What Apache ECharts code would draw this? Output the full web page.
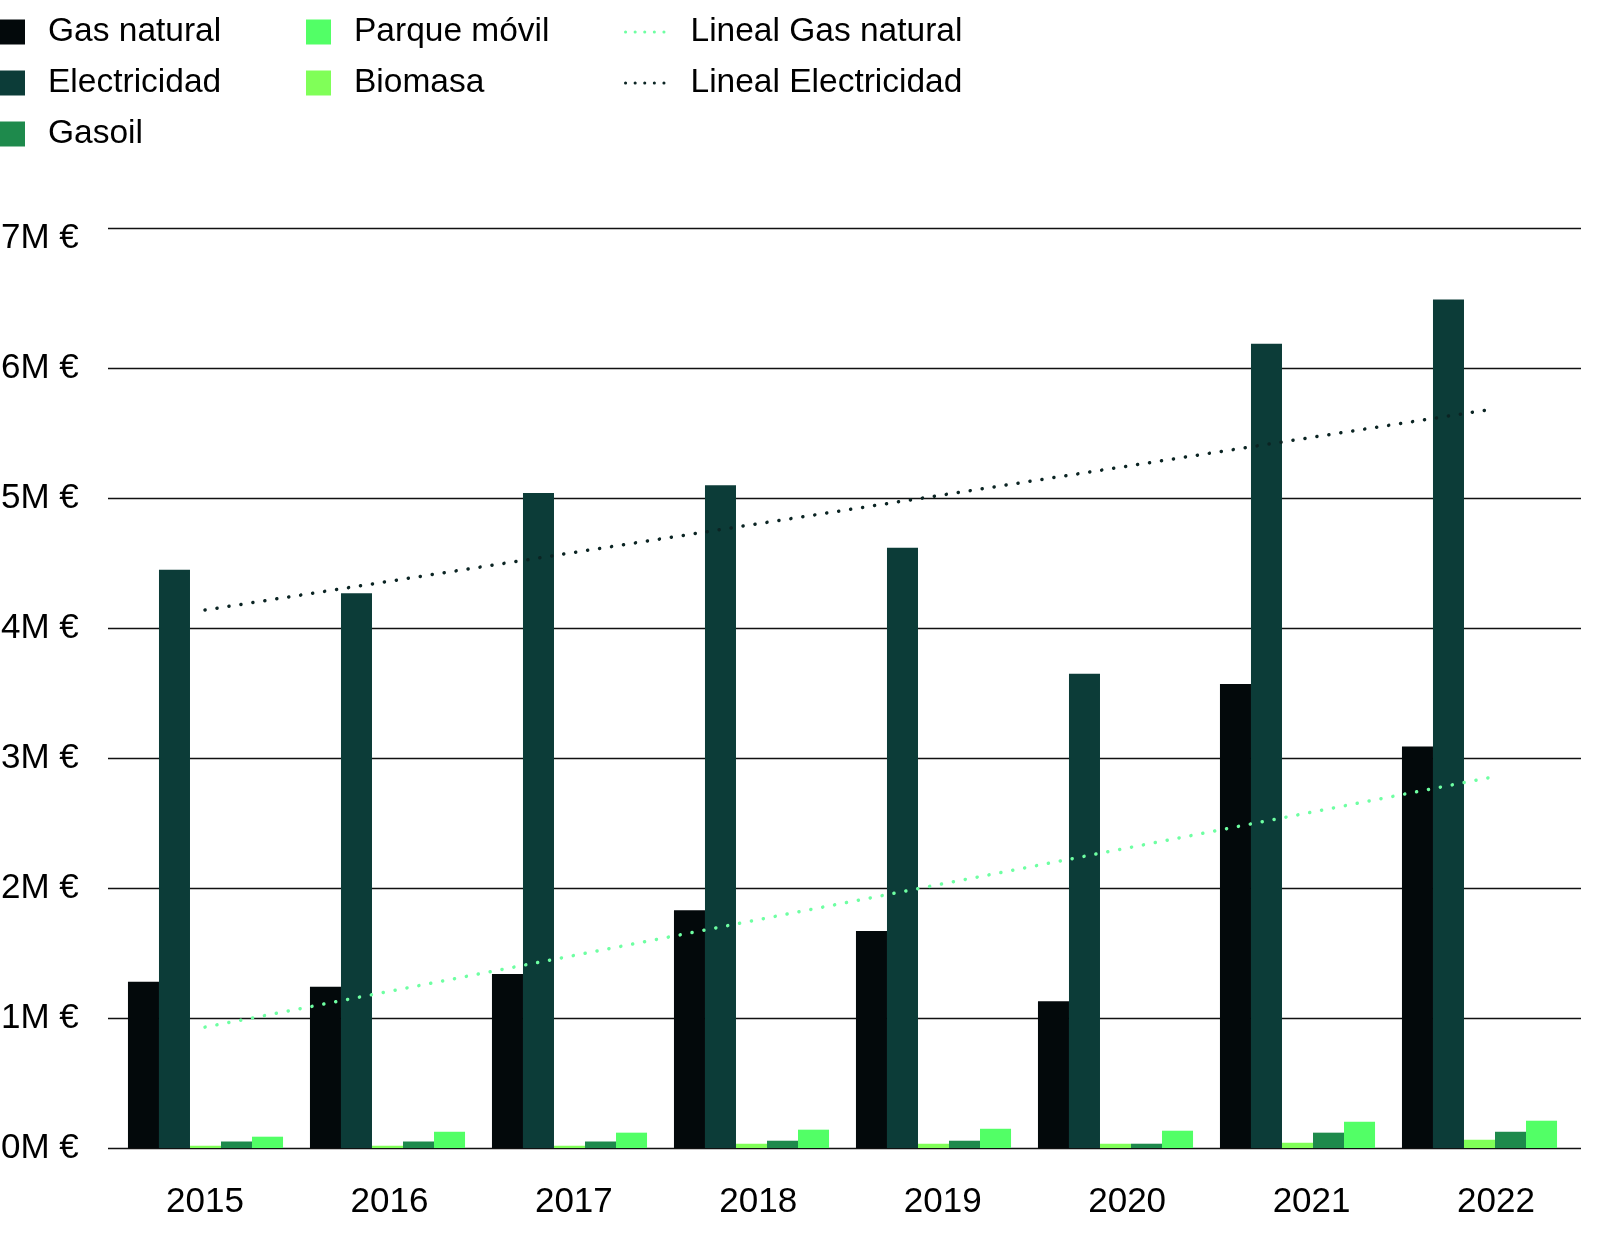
<!DOCTYPE html>
<html>
<head>
<meta charset="utf-8">
<script src="https://cdn.jsdelivr.net/npm/echarts@6/dist/echarts.min.js"></script>
<style>
html, body { margin: 0; padding: 0; background: #fff; }
#canvas { width: 1608px; height: 1242px; }
</style>
</head>
<body>
<div id="canvas"></div>
<script>
// valores en millones de euros
var years = ['2015', '2016', '2017', '2018', '2019', '2020', '2021', '2022'];
var gasNatural = [1.28, 1.24, 1.34, 1.83, 1.67, 1.13, 3.57, 3.09];
var electricidad = [4.45, 4.27, 5.04, 5.10, 4.62, 3.65, 6.19, 6.53];
var biomasa = [0.018, 0.018, 0.018, 0.033, 0.033, 0.033, 0.041, 0.064];
var gasoil = [0.05, 0.05, 0.05, 0.056, 0.056, 0.033, 0.118, 0.125];
var parqueMovil = [0.087, 0.125, 0.118, 0.141, 0.148, 0.133, 0.202, 0.21];
// lineas de tendencia: solo extremos
var linealGas = [0.93, null, null, null, null, null, null, 2.86];
var linealElec = [4.14, null, null, null, null, null, null, 5.69];
var yTicks = ['0M €', '1M €', '2M €', '3M €', '4M €', '5M €', '6M €', '7M €'];

var FONT = "'Liberation Sans', Arial, sans-serif";
var yMax = 7.08;
var gridTop = 228, gridBottom = 94;

var myChart = echarts.init(document.getElementById('canvas'));

function barSeries(name, data, color) {
    return {
        name: name,
        type: 'bar',
        xAxisIndex: 1,
        yAxisIndex: 1,
        data: data,
        barGap: '0%',
        barCategoryGap: '14.8%',
        itemStyle: { color: color },
        emphasis: { disabled: true }
    };
}

function trendSeries(name, data, color) {
    return {
        name: name,
        type: 'line',
        xAxisIndex: 2,
        yAxisIndex: 2,
        data: data,
        connectNulls: true,
        symbol: 'none',
        z: 5,
        lineStyle: { color: color, width: 3.5, type: [0.1, 12], cap: 'round' },
        itemStyle: { color: color },
        emphasis: { disabled: true }
    };
}

var legendText = { fontSize: 33.5, lineHeight: 33, color: '#000', fontFamily: FONT };

option = {
    animation: false,
    textStyle: { fontFamily: FONT },
    legend: [{
        orient: 'vertical', left: 0, top: 15, padding: 0, selectedMode: false,
        icon: 'rect', itemWidth: 25, itemHeight: 25, itemGap: 17,
        data: ['Gas natural', 'Electricidad', 'Gasoil'],
        textStyle: Object.assign({ padding: [0, 0, 0, 18] }, legendText)
    }, {
        orient: 'vertical', left: 306, top: 15, padding: 0, selectedMode: false,
        icon: 'rect', itemWidth: 25, itemHeight: 25, itemGap: 17,
        data: ['Parque móvil', 'Biomasa'],
        textStyle: Object.assign({ padding: [0, 0, 0, 18] }, legendText)
    }, {
        orient: 'vertical', left: 624, top: 15, padding: 0, selectedMode: false,
        itemWidth: 45, itemHeight: 25, itemGap: 17,
        data: ['Lineal Gas natural', 'Lineal Electricidad'],
        itemStyle: { color: 'rgba(0,0,0,0)', borderColor: 'rgba(0,0,0,0)', borderWidth: 0 },
        lineStyle: { width: 3, type: [0.1, 9.5], cap: 'round' },
        textStyle: Object.assign({ padding: [0, 0, 0, 15] }, legendText)
    }],
    grid: [
        { left: 108, right: 27, top: gridTop, bottom: gridBottom, outerBoundsMode: 'none' },      // lineas de referencia
        { left: 114.5, right: 37.5, top: gridTop, bottom: gridBottom, outerBoundsMode: 'none' },  // barras
        { left: 112.8, right: 19.8, top: gridTop, bottom: gridBottom, outerBoundsMode: 'none' }   // etiquetas y tendencias
    ],
    xAxis: [
        { gridIndex: 0, type: 'category', data: years, show: false },
        { gridIndex: 1, type: 'category', data: years, show: false },
        {
            gridIndex: 2, type: 'category', data: years,
            axisLine: { show: false },
            axisTick: { show: false },
            splitLine: { show: false },
            axisLabel: { margin: 37, fontSize: 35, color: '#000', fontFamily: FONT }
        }
    ],
    yAxis: [{
        gridIndex: 0, type: 'value', min: 0, max: yMax, interval: 1,
        axisLine: { show: false },
        axisTick: { show: false },
        axisLabel: {
            align: 'left', margin: 107, fontSize: 35, color: '#000', fontFamily: FONT,
            showMaxLabel: false,
            formatter: function (v) {
                return Math.abs(v - Math.round(v)) < 1e-6 ? yTicks[Math.round(v)] : '';
            }
        },
        splitLine: {
            show: true,
            lineStyle: {
                color: ['#111', '#111', '#111', '#111', '#111', '#111', '#111', 'rgba(0,0,0,0)', '#111'],
                width: 1.3
            }
        }
    }, {
        gridIndex: 1, type: 'value', min: 0, max: yMax, interval: 1, show: false
    }, {
        gridIndex: 2, type: 'value', min: 0, max: yMax, interval: 1, show: false
    }],
    series: [
        barSeries('Gas natural', gasNatural, '#03090b'),
        barSeries('Electricidad', electricidad, '#0c3c38'),
        barSeries('Biomasa', biomasa, '#80ff58'),
        barSeries('Gasoil', gasoil, '#1e8a4c'),
        barSeries('Parque móvil', parqueMovil, '#52ff66'),
        trendSeries('Lineal Gas natural', linealGas, '#6effa2'),
        trendSeries('Lineal Electricidad', linealElec, '#0b2423')
    ]
};
myChart.setOption(option);
</script>
</body>
</html>
